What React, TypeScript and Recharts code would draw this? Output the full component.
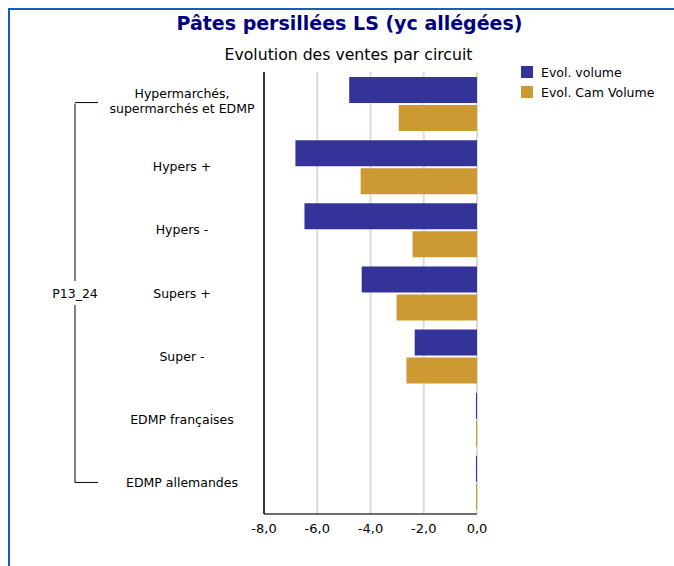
import React from "react";
import { BarChart, Bar, XAxis, YAxis, CartesianGrid } from "recharts";

const categories = [
  "Hypermarchés,\nsupermarchés et EDMP",
  "Hypers +",
  "Hypers -",
  "Supers +",
  "Super -",
  "EDMP françaises",
  "EDMP allemandes",
];
const evolVolume = [-4.8, -6.82, -6.48, -4.33, -2.34, -0.04, -0.04];
const evolCamVolume = [-2.94, -4.37, -2.42, -3.02, -2.65, -0.04, -0.04];
const xTicks = [-8, -6, -4, -2, 0];
const groupLabel = "P13_24";
const seriesNames = ["Evol. volume", "Evol. Cam Volume"];
const colors = ["#333399", "#CC9933"];

const data = categories.map((name, i) => ({
  name,
  vol: evolVolume[i],
  cam: evolCamVolume[i],
}));

const FONT = "Tahoma, 'DejaVu Sans', sans-serif";
const LABEL_X = 182;
const BRACKET_X = 75;

const CategoryTick = (props: any) => {
  const { y, payload, index } = props;
  const band = payload && payload.offset ? payload.offset * 2 : 63;
  const lines = String(payload.value).split("\n");
  const last = categories.length - 1;
  const mid = Math.floor(last / 2);
  return (
    <g>
      {index < last && (
        <line x1={BRACKET_X} x2={BRACKET_X} y1={y} y2={y + band} stroke="#000" strokeWidth={1} />
      )}
      {index === 0 && (
        <line x1={BRACKET_X} x2={BRACKET_X + 23} y1={y - 1} y2={y - 1} stroke="#000" strokeWidth={1} />
      )}
      {index === last && (
        <line x1={BRACKET_X} x2={BRACKET_X + 23} y1={y} y2={y} stroke="#000" strokeWidth={1} />
      )}
      {index === mid && (
        <g>
          <rect x={BRACKET_X - 26} y={y - 12} width={52} height={24} fill="#fff" />
          <text x={BRACKET_X} y={y} textAnchor="middle" dominantBaseline="central" fontSize={12.5} fontFamily={FONT} fill="#000">
            {groupLabel}
          </text>
        </g>
      )}
      {lines.length === 1 ? (
        <text x={LABEL_X} y={y} textAnchor="middle" dominantBaseline="central" fontSize={12.5} fontFamily={FONT} fill="#000">
          {lines[0]}
        </text>
      ) : (
        lines.map((l, k) => (
          <text key={k} x={LABEL_X} y={y - 10 + k * 15} textAnchor="middle" dominantBaseline="central" fontSize={12.5} fontFamily={FONT} fill="#000">
            {l}
          </text>
        ))
      )}
    </g>
  );
};

export default function App() {
  return (
    <div style={{ position: "absolute", left: 0, top: 0, width: 674, height: 566, background: "#fff", overflow: "hidden" }}>
      <div style={{ position: "absolute", left: 8, top: 8, width: 700, height: 600, borderLeft: "2px solid #1a5cb8", borderTop: "2px solid #1a5cb8" }} />
      <div style={{ position: "absolute", left: 0, width: 699, top: 12, textAlign: "center", fontFamily: FONT, fontWeight: "bold", fontSize: 19, color: "#000080" }}>
        Pâtes persillées LS (yc allégées)
      </div>
      <div style={{ position: "absolute", left: 0, width: 697, top: 45, textAlign: "center", fontFamily: FONT, fontSize: 15.7, color: "#000" }}>
        Evolution des ventes par circuit
      </div>
      <div style={{ position: "absolute", left: 521, top: 62, fontFamily: FONT, fontSize: 12.5, color: "#000" }}>
        {seriesNames.map((n, i) => (
          <div key={n} style={{ display: "flex", alignItems: "center", height: 20 }}>
            <span style={{ display: "inline-block", width: 12, height: 12, background: colors[i], marginRight: 8 }} />
            <span>{n}</span>
          </div>
        ))}
      </div>
      <div style={{ position: "absolute", left: 0, top: 0 }}>
        <BarChart
          width={674}
          height={566}
          data={data}
          layout="vertical"
          margin={{ top: 72, right: 197, bottom: 22, left: 0 }}
          barCategoryGap={5}
          barGap={2}
        >
          <CartesianGrid horizontal={false} stroke="#dcdcdc" strokeWidth={2} />
          <XAxis
            type="number"
            domain={[-8, 0]}
            ticks={xTicks}
            interval={0}
            tickFormatter={(v: number) => v.toFixed(1).replace(".", ",")}
            axisLine={{ stroke: "#404040", strokeWidth: 1.5 }}
            tickLine={false}
            tick={{ fontSize: 13, fontFamily: FONT, fill: "#000" }}
            tickMargin={4}
            allowDataOverflow
          />
          <YAxis
            type="category"
            dataKey="name"
            width={264}
            axisLine={{ stroke: "#000", strokeWidth: 1.5 }}
            tickLine={false}
            tick={<CategoryTick />}
            interval={0}
          />
          <Bar dataKey="vol" name={seriesNames[0]} fill={colors[0]} isAnimationActive={false} />
          <Bar dataKey="cam" name={seriesNames[1]} fill={colors[1]} isAnimationActive={false} />
        </BarChart>
      </div>
    </div>
  );
}
